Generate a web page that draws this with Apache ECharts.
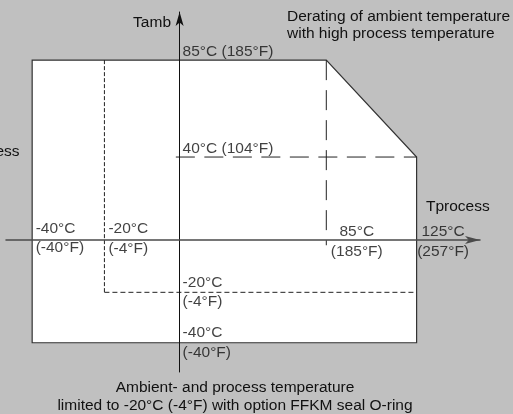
<!DOCTYPE html>
<html>
<head>
<meta charset="utf-8">
<script src="https://cdn.jsdelivr.net/npm/echarts@6/dist/echarts.min.js"></script>
<style>
  html, body { margin: 0; padding: 0; background: #c0c0c0; }
  #chart { width: 513px; height: 414px; }
</style>
</head>
<body>
<div id="chart"></div>
<script>
// permitted operating range, °C (process temperature / ambient temperature)
var limitProcess = [-40, 85, 125, 125, -40];
var limitAmbient = [85, 85, 40, -40, -40];
// lower limit with option FFKM seal O-ring
var ffkmLimit = -20;
// derating of ambient temperature starts here
var deratingProcess = 85;
var deratingAmbient = 40;
// the two derating guide lines run a little past the axes
var guideProcessStart = -1;
var guideAmbientEnd = -2;

// tick labels
var processTemps = [-40, -20, 85, 125];
var processLabels = ['-40°C\n(-40°F)', '-20°C\n(-4°F)', '85°C\n(185°F)', '125°C\n(257°F)'];
var ambientTemps = [85, 40, -20, -40];
var ambientLabels = ['85°C (185°F)', '40°C (104°F)', '-20°C\n(-4°F)', '-40°C\n(-40°F)'];

// the sketch is not to scale: where each temperature sits on the drawn axes
var xStops = [[-40, -40], [-20, -20.4], [0, 0], [85, 39.8], [125, 64.3]];
var yStops = [[-40, -49.5], [-20, -25.2], [0, 0], [40, 40], [85, 86.7]];

function interp(stops, t) {
  var i = 1;
  while (i < stops.length - 1 && t > stops[i][0]) i++;
  var a = stops[i - 1], b = stops[i];
  return a[1] + (t - a[0]) * (b[1] - a[1]) / (b[0] - a[0]);
}
function sx(t) { return interp(xStops, t); }
function sy(t) { return interp(yStops, t); }

var font = 'Liberation Sans, Arial, sans-serif';
var fontSize = 15.5;
var ink = '#111';

function dashed(points, dash) {
  return {
    type: 'line',
    silent: true,
    symbol: 'none',
    z: 3,
    data: points.map(function (p) { return [sx(p[0]), sy(p[1])]; }),
    lineStyle: { color: '#222', width: 1, type: dash }
  };
}

// label placement beside each tick point
var processDx = [4, 4.5, 31, 27];
var processAlign = ['left', 'left', 'center', 'center'];
var processDy = [-1.5, -1, 2, 2];

var processItems = processTemps.map(function (t, i) {
  return {
    value: [sx(t), sy(0)],
    label: {
      formatter: processLabels[i],
      position: [processDx[i], processDy[i]],
      align: processAlign[i]
    }
  };
});
var ambientItems = ambientTemps.map(function (t, i) {
  var twoLines = ambientLabels[i].indexOf('\n') >= 0;
  return {
    value: [sx(0), sy(t)],
    label: {
      formatter: ambientLabels[i],
      position: [3.5, twoLines ? 0.5 : -8],
      align: 'left'
    }
  };
});

function labelSeries(items) {
  return {
    type: 'scatter',
    silent: true,
    symbolSize: 1,
    z: 6,
    itemStyle: { color: 'rgba(0,0,0,0)' },
    label: {
      show: true,
      verticalAlign: 'middle',
      color: ink,
      textBorderWidth: 0,
      fontFamily: font,
      fontSize: fontSize,
      lineHeight: 19.5
    },
    data: items
  };
}

function freeText(x, y, text, align, vAlign, lh) {
  return {
    type: 'text',
    silent: true,
    x: x,
    y: y,
    style: {
      text: text,
      fill: ink,
      font: fontSize + 'px ' + font,
      align: align,
      textAlign: align,
      verticalAlign: vAlign,
      textVerticalAlign: vAlign,
      lineHeight: lh || 18
    }
  };
}

var chart = echarts.init(document.getElementById('chart'));
chart.setOption({
  animation: false,
  backgroundColor: '#c0c0c0',
  grid: { left: 6, right: 33, top: 12, bottom: 42 },
  xAxis: {
    type: 'value',
    min: -47.1,
    max: 81.5,
    z: 10,
    axisLine: {
      onZero: true,
      symbol: ['none', 'arrow'],
      symbolSize: [6, 15],
      lineStyle: { color: '#4a4a4a', width: 1.5 }
    },
    axisTick: { show: false },
    axisLabel: { show: false },
    splitLine: { show: false }
  },
  yAxis: {
    type: 'value',
    min: -63.6,
    max: 109.9,
    z: 10,
    axisLine: {
      onZero: true,
      symbol: ['none', 'arrow'],
      symbolSize: [6, 14],
      lineStyle: { color: '#111', width: 1 }
    },
    axisTick: { show: false },
    axisLabel: { show: false },
    splitLine: { show: false }
  },
  series: [
    {
      type: 'custom',
      silent: true,
      z: 1,
      data: [[0, 0]],
      renderItem: function (params, api) {
        var pts = limitProcess.map(function (t, i) {
          return api.coord([sx(t), sy(limitAmbient[i])]);
        });
        return {
          type: 'polygon',
          shape: { points: pts },
          style: { fill: '#fff', stroke: '#333', lineWidth: 1.2 }
        };
      }
    },
    dashed([[ffkmLimit, 85], [ffkmLimit, ffkmLimit]], [4, 2]),
    dashed([[ffkmLimit, ffkmLimit], [125, ffkmLimit]], [5, 3]),
    dashed([[guideProcessStart, deratingAmbient], [125, deratingAmbient]], [19, 9.5]),
    dashed([[deratingProcess, 85], [deratingProcess, guideAmbientEnd]], [20, 10]),
    labelSeries(processItems),
    labelSeries(ambientItems)
  ],
  graphic: [
    freeText(171, 23, 'Tamb', 'right', 'middle'),
    freeText(287, 8, 'Derating of ambient temperature\nwith high process temperature', 'left', 'top', 17),
    freeText(426, 207, 'Tprocess', 'left', 'middle'),
    freeText(19.5, 152, 'Tprocess', 'right', 'middle'),
    freeText(235, 379, 'Ambient- and process temperature\nlimited to -20°C (-4°F) with option FFKM seal O-ring', 'center', 'top', 18)
  ]
});
</script>
</body>
</html>
